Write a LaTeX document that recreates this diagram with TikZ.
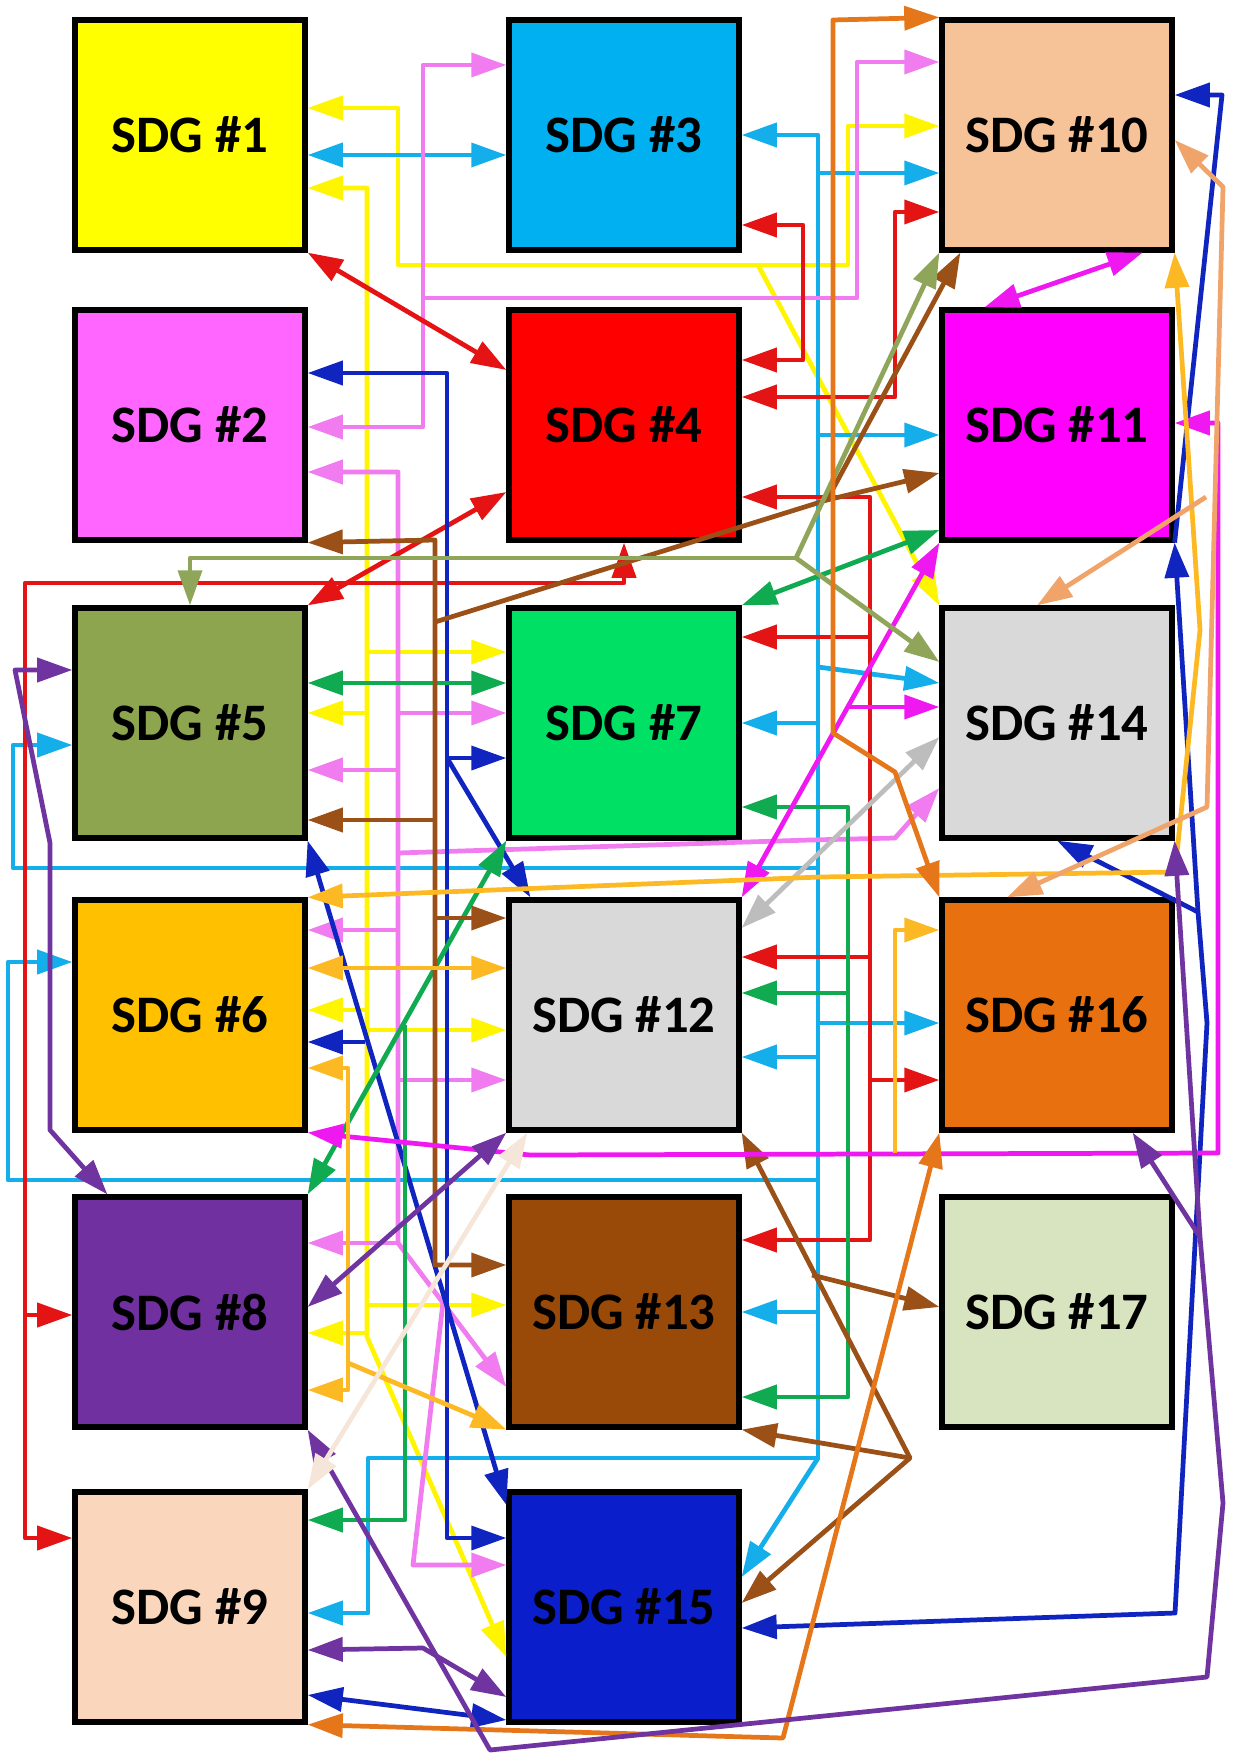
\documentclass[tikz,border=0pt]{standalone}
\usepackage{fontspec}
\setmainfont{Carlito}
\usetikzlibrary{arrows.meta}
% box fills
\definecolor{BoxA}{HTML}{FFFF00}
\definecolor{BoxB}{HTML}{FF66FF}
\definecolor{BoxC}{HTML}{00B0F0}
\definecolor{BoxD}{HTML}{FF0000}
\definecolor{BoxE}{HTML}{8DA54E}
\definecolor{BoxF}{HTML}{FFC000}
\definecolor{BoxG}{HTML}{00E064}
\definecolor{BoxH}{HTML}{7030A0}
\definecolor{BoxI}{HTML}{FAD7BC}
\definecolor{BoxJ}{HTML}{F6C298}
\definecolor{BoxK}{HTML}{FF00FF}
\definecolor{BoxL}{HTML}{D9D9D9}
\definecolor{BoxM}{HTML}{9A4A08}
\definecolor{BoxO}{HTML}{0A1ECC}
\definecolor{BoxP}{HTML}{E8700E}
\definecolor{BoxQ}{HTML}{D8E4BF}
% wire colours
\definecolor{LYellow}{HTML}{FFF500}
\definecolor{LCyan}{HTML}{14AEEA}
\definecolor{LViolet}{HTML}{F07CF0}
\definecolor{LRed}{HTML}{E51414}
\definecolor{LBlue}{HTML}{1024C0}
\definecolor{LGreen}{HTML}{10AA50}
\definecolor{LBrown}{HTML}{9A5016}
\definecolor{LMagenta}{HTML}{F018F0}
\definecolor{LOlive}{HTML}{8FA65A}
\definecolor{LGray}{HTML}{BDBDBD}
\definecolor{LGold}{HTML}{FDB924}
\definecolor{LOrange}{HTML}{E5761A}
\definecolor{LPeach}{HTML}{F0A46A}
\definecolor{LPurple}{HTML}{7034A0}
\definecolor{LCream}{HTML}{F6E6DA}

\begin{document}
\begin{tikzpicture}[x=0.02cm, y=-0.02cm,
    >={Triangle[length=20pt,width=13.5pt]},
    sdg/.style={draw=black, line width=3pt, minimum size=4.6cm, inner sep=0pt,
        font=\bfseries\fontsize{30}{32}\selectfont},
    wire/.style={line width=2.7pt, line join=round}]
    \useasboundingbox (0,0) rectangle (1232,1753);

    % Boxes
    \node[sdg, fill=BoxA] (s1) at (190,135) {SDG \#1};
    \node[sdg, fill=BoxB] (s2) at (190,425) {SDG \#2};
    \node[sdg, fill=BoxC] (s3) at (624,135) {SDG \#3};
    \node[sdg, fill=BoxD] (s4) at (624,425) {SDG \#4};
    \node[sdg, fill=BoxE] (s5) at (190,723) {SDG \#5};
    \node[sdg, fill=BoxF] (s6) at (190,1015) {SDG \#6};
    \node[sdg, fill=BoxG] (s7) at (624,723) {SDG \#7};
    \node[sdg, fill=BoxH] (s8) at (190,1312) {SDG \#8};
    \node[sdg, fill=BoxI] (s9) at (190,1607) {SDG \#9};
    \node[sdg, fill=BoxJ] (s10) at (1057,135) {SDG \#10};
    \node[sdg, fill=BoxK] (s11) at (1057,425) {SDG \#11};
    \node[sdg, fill=BoxL] (s12) at (624,1015) {SDG \#12};
    \node[sdg, fill=BoxM] (s13) at (624,1312) {SDG \#13};
    \node[sdg, fill=BoxL] (s14) at (1057,723) {SDG \#14};
    \node[sdg, fill=BoxO] (s15) at (624,1607) {SDG \#15};
    \node[sdg, fill=BoxP] (s16) at (1057,1015) {SDG \#16};
    \node[sdg, fill=BoxQ] (s17) at (1057,1312) {SDG \#17};

    % Yellow
    \draw[wire, LYellow, <->] (s1.east |- 0,108) -- (398,108) -- (398,265) -- (848,265) -- (848,126) -- (s10.west |- 0,126);
    \draw[wire, LYellow, ->] (758,265) -- (s14.north west);
    \draw[wire, LYellow, <->] (s1.east |- 0,188) -- (367,188) -- (367,1337) -- (s15.west |- 0,1657);
    \foreach \y/\nd in {652/s7, 1030/s12, 1305/s13}
        \draw[wire, LYellow, ->] (367,\y) -- (\nd.west |- 0,\y);
    \foreach \y/\nd in {713/s5, 1010/s6, 1333/s8}
        \draw[wire, LYellow, ->] (367,\y) -- (\nd.east |- 0,\y);

    % Cyan
    \draw[wire, LCyan, <->] (s1.east |- 0,155) -- (s3.west |- 0,155);
    \draw[wire, LCyan, <->] (s3.east |- 0,135) -- (818,135) -- (818,1458) -- (368,1458) -- (368,1613) -- (s9.east |- 0,1613);
    \foreach \y/\nd in {173/s10, 435/s11, 1023/s16}
        \draw[wire, LCyan, ->] (818,\y) -- (\nd.west |- 0,\y);
    \foreach \y/\nd in {723/s7, 1057/s12, 1312/s13}
        \draw[wire, LCyan, ->] (818,\y) -- (\nd.east |- 0,\y);
    \draw[wire, LCyan, ->] (818,667) -- (s14.west |- 0,683);
    \draw[wire, LCyan, ->] (818,1458) -- (s15.east |- 0,1577);
    \draw[wire, LCyan, ->] (818,868) -- (13,868) -- (13,745) -- (s5.west |- 0,745);
    \draw[wire, LCyan, ->] (818,1180) -- (8,1180) -- (8,962) -- (s6.west |- 0,962);

    % Violet
    \draw[wire, LViolet, <->] (s2.east |- 0,427) -- (423,427) -- (423,65) -- (s3.west |- 0,65);
    \draw[wire, LViolet, ->] (423,298) -- (857,298) -- (857,62) -- (s10.west |- 0,62);
    \draw[wire, LViolet, <->] (s2.east |- 0,472) -- (398,472) -- (398,1243) -- (s13.west |- 0,1387);
    \foreach \y/\nd in {713/s7, 1080/s12}
        \draw[wire, LViolet, ->] (398,\y) -- (\nd.west |- 0,\y);
    \foreach \y/\nd in {770/s5, 930/s6, 1243/s8}
        \draw[wire, LViolet, ->] (398,\y) -- (\nd.east |- 0,\y);
    \draw[wire, LViolet, ->] (398,853) -- (810,840) -- (895,838) -- (s14.west |- 0,788);
    \draw[wire, LViolet, ->] (443,1302) -- (413,1565) -- (s15.west |- 0,1565);

    % Red
    \draw[wire, LRed, <->] (s1.south east) -- (s4.west |- 0,370);
    \draw[wire, LRed, <->] (s3.east |- 0,225) -- (803,225) -- (803,360) -- (s4.east |- 0,360);
    \draw[wire, LRed, <->] (s4.east |- 0,397) -- (895,397) -- (895,212) -- (s10.west |- 0,212);
    \draw[wire, LRed, <->] (s4.east |- 0,497) -- (870,497) -- (870,1240) -- (s13.east |- 0,1240);
    \foreach \y/\nd in {637/s7, 957/s12}
        \draw[wire, LRed, ->] (870,\y) -- (\nd.east |- 0,\y);
    \draw[wire, LRed, ->] (870,1080) -- (s16.west |- 0,1080);
    \draw[wire, LRed, <->] (s4.south) -- (624,583) -- (25,583) -- (25,1538) -- (s9.west |- 0,1538);
    \draw[wire, LRed, ->] (25,1315) -- (s8.west |- 0,1315);
    \draw[wire, LRed, <->] (s5.north east) -- (s4.west |- 0,492);

    % Blue
    \draw[wire, LBlue, <->] (s2.east |- 0,373) -- (447,373) -- (447,1538) -- (s15.west |- 0,1538);
    \draw[wire, LBlue, ->] (447,758) -- (s7.west |- 0,758);
    \draw[wire, LBlue, ->] (447,758) -- ([xshift=0.48cm]s12.north west);
    \draw[wire, LBlue, <->] (s5.south east) -- (s15.west |- 0,1505);
    \draw[wire, LBlue, ->] (365,1042) -- (s6.east |- 0,1042);
    \draw[wire, LBlue, <->] (s9.east |- 0,1695) -- (s15.west |- 0,1720);
    \draw[wire, LBlue, <->] (s15.east |- 0,1628) -- (1175,1613) -- (1207,1023) -- (1198,912) -- (s11.south east);
    \draw[wire, LBlue, ->] (1198,912) -- (s14.south);
    \draw[wire, LBlue, ->] (s11.south east) -- (1222,95) -- (s10.east |- 0,95);

    % Green
    \draw[wire, LGreen, <->] (s5.east |- 0,683) -- (s7.west |- 0,683);
    \draw[wire, LGreen, <->] (s7.north east) -- (s11.west |- 0,530);
    \draw[wire, LGreen, <->] (s7.east |- 0,807) -- (848,807) -- (848,1397) -- (s13.east |- 0,1397);
    \draw[wire, LGreen, ->] (848,993) -- (s12.east |- 0,993);
    \draw[wire, LGreen, <->] (s8.north east) -- (s7.south west);
    \draw[wire, LGreen, ->] (405,1025) -- (405,1520) -- (s9.east |- 0,1520);

    % Brown
    \draw[wire, LBrown, <->] (s2.south east) -- (435,540) -- (435,1265) -- (s13.west |- 0,1265);
    \draw[wire, LBrown, ->] (435,820) -- (s5.east |- 0,820);
    \draw[wire, LBrown, ->] (435,918) -- (s12.west |- 0,918);
    \draw[wire, LBrown, ->] (435,622) -- (827,500) -- (s11.west |- 0,473);
    \draw[wire, LBrown, ->] (827,500) -- ([xshift=0.42cm]s10.south west);
    \draw[wire, LBrown, <->] (s12.south east) -- (910,1458) -- (s15.east |- 0,1603);
    \draw[wire, LBrown, ->] (910,1458) -- (s13.south east);
    \draw[wire, LBrown, ->] (812,1275) -- (s17.west |- 0,1307);

    % Magenta
    \draw[wire, LMagenta, <->] ([xshift=-0.64cm]s10.south east) -- ([xshift=0.9cm]s11.north west);
    \draw[wire, LMagenta, <->] (s12.north east) -- (s11.south west);
    \draw[wire, LMagenta, ->] (847,707) -- (s14.west |- 0,707);
    \draw[wire, LMagenta, <->] (s11.east |- 0,423) -- (1218,423) -- (1218,1153) -- (530,1155) -- (s6.south east);

    % Olive
    \draw[wire, LOlive, ->] (796,558) -- (190,558) -- (s5.north);
    \draw[wire, LOlive, ->] (796,558) -- (s10.south west);
    \draw[wire, LOlive, ->] (796,558) -- (s14.west |- 0,662);

    % Gray
    \draw[wire, LGray, <->] (s12.east |- 0,928) -- (s14.west |- 0,737);

    % Gold
    \draw[wire, LGold, <->] (s6.north east) -- (820,877) -- (1175,872) -- (1200,630) -- (1188,450) -- (s10.south east);
    \draw[wire, LGold, <->] (s6.east |- 0,968) -- (s12.west |- 0,968);
    \draw[wire, LGold, <->] (s6.east |- 0,1068) -- (348,1068) -- (348,1390) -- (s8.east |- 0,1390);
    \draw[wire, LGold, ->] (348,1363) -- (s13.south west);
    \draw[wire, LGold, ->] (895,1153) -- (895,930) -- (s16.west |- 0,930);

    % Orange
    \draw[wire, LOrange, <->] (s10.north west) -- (833,20) -- (833,733) -- (895,772) -- (s16.north west);
    \draw[wire, LOrange, <->] (s9.south east) -- (783,1738) -- (s16.south west);

    % Peach
    \draw[wire, LPeach, <->] (s10.east |- 0,140) -- (1223,187) -- (1207,807) -- ([xshift=-1cm]s16.north);
    \draw[wire, LPeach, ->] (1206,497) -- ([xshift=-0.4cm]s14.north);

    % Purple
    \draw[wire, LPurple, <->] (s5.west |- 0,670) -- (15,670) -- (50,843) -- (50,1130) -- ([xshift=0.7cm]s8.north west);
    \draw[wire, LPurple, <->] (s8.east |- 0,1307) -- (s12.south west);
    \draw[wire, LPurple, <->] (s8.south east) -- (490,1750) -- (1207,1677) -- (1223,1503) -- (1200,1237) -- (s14.south east);
    \draw[wire, LPurple, ->] (1200,1237) -- ([xshift=-0.84cm]s16.south east);
    \draw[wire, LPurple, <->] (s9.east |- 0,1650) -- (423,1648) -- (s15.west |- 0,1697);

    % Cream
    \draw[wire, LCream, <->] (s9.north east) -- ([xshift=0.42cm]s12.south west);
\end{tikzpicture}
\end{document}
